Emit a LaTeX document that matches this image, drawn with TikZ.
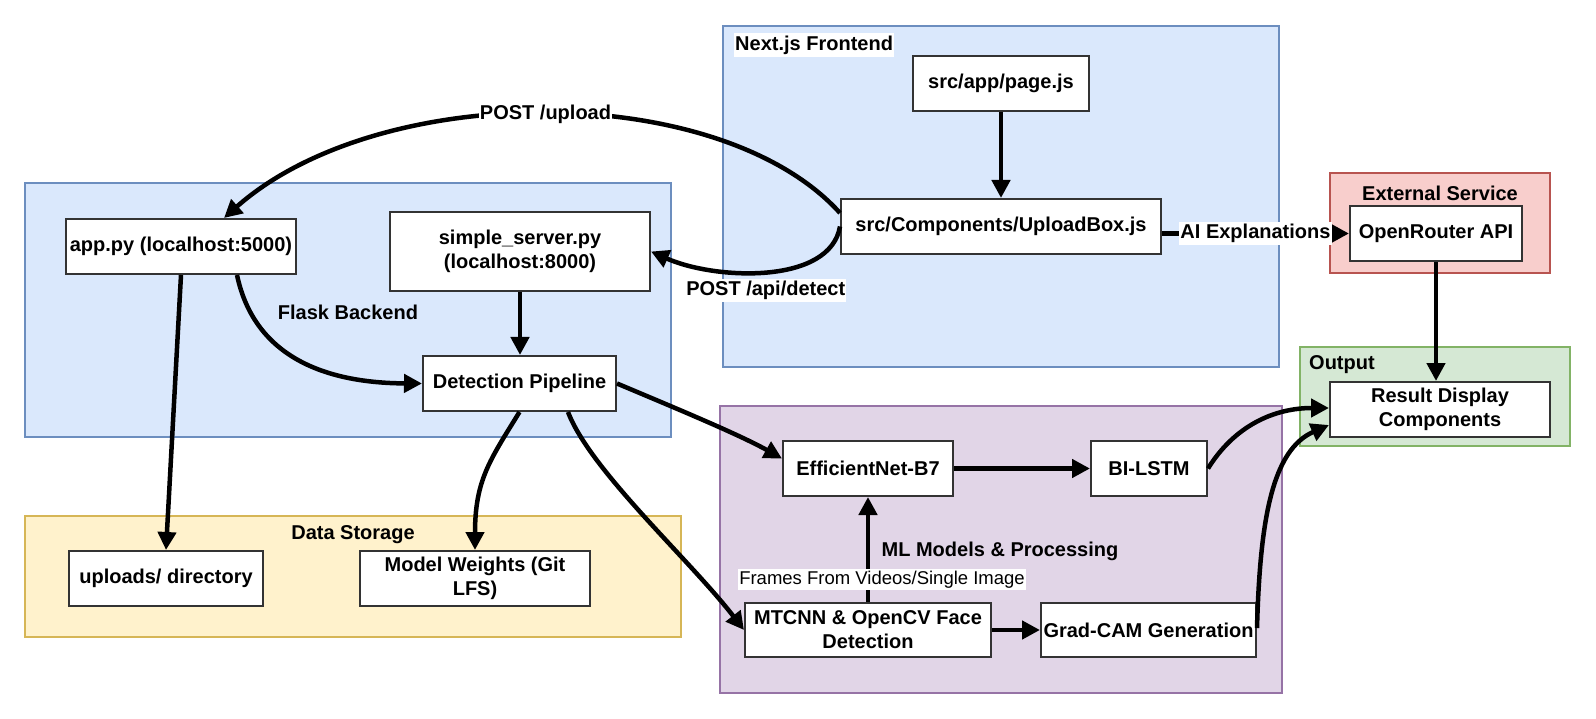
\documentclass[tikz,border=0pt]{standalone}
\usepackage{fontspec}
\setmainfont{Liberation Sans}
\usetikzlibrary{arrows.meta}
\definecolor{bluefill}{HTML}{DAE8FC}\definecolor{blueline}{HTML}{6C8EBF}
\definecolor{yelfill}{HTML}{FFF2CC}\definecolor{yelline}{HTML}{D6B656}
\definecolor{redfill}{HTML}{F8CECC}\definecolor{redline}{HTML}{B85450}
\definecolor{grnfill}{HTML}{D5E8D4}\definecolor{grnline}{HTML}{82B366}
\definecolor{purfill}{HTML}{E1D5E7}\definecolor{purline}{HTML}{9673A6}
\definecolor{boxline}{HTML}{333333}
\tikzset{
  box/.style={draw=boxline, fill=white, line width=2pt, inner sep=0pt, align=center,
    font=\bfseries\fontsize{20}{24}\selectfont},
  cont/.style={line width=2pt, inner sep=0pt},
  conn/.style={line width=4.5pt, -{Triangle[length=18pt,width=18pt]}},
  lbl/.style={font=\bfseries\fontsize{20}{24}\selectfont, inner xsep=1pt, inner ysep=2pt},
  smalllbl/.style={font=\fontsize{18.5}{22}\selectfont, inner xsep=1pt, inner ysep=2pt},
}
\begin{document}
\begin{tikzpicture}[x=1pt,y=-1pt]
\useasboundingbox (0,0) rectangle (1596,719);
% containers
\node[cont, draw=blueline, fill=bluefill, minimum width=646pt, minimum height=254pt] (flask) at (348,310) {};
\node[cont, draw=blueline, fill=bluefill, minimum width=556pt, minimum height=341pt] (next) at (1001,196.5) {};
\node[cont, draw=yelline, fill=yelfill, minimum width=656pt, minimum height=121pt] (storage) at (353,576.5) {};
\node[cont, draw=redline, fill=redfill, minimum width=220pt, minimum height=100pt] (ext) at (1440,223) {};
\node[cont, draw=grnline, fill=grnfill, minimum width=270pt, minimum height=99pt] (out) at (1435,396.5) {};
\node[cont, draw=purline, fill=purfill, minimum width=562pt, minimum height=287pt] (ml) at (1001,549.5) {};
% container titles
\node[lbl, fill=white, anchor=west, inner ysep=3pt] (nexttitle) at (734,45) {Next.js Frontend};
\node[lbl] (flasktitle) at (348,312) {Flask Backend};
\node[lbl] (storagetitle) at (353,535) {Data Storage};
\node[lbl] (exttitle) at (1440,193) {External Service};
\node[lbl, anchor=west] (outtitle) at (1308,365) {Output};
\node[lbl] (mltitle) at (1000,551) {ML Models \& Processing};
% boxes
\node[box, minimum width=230pt, minimum height=55pt] (app) at (181,246.5) {app.py (localhost:5000)};
\node[box, minimum width=260pt, minimum height=79pt] (simple) at (520,251.5) {simple\_server.py\\(localhost:8000)};
\node[box, minimum width=193pt, minimum height=55pt] (det) at (519.5,383.5) {Detection Pipeline};
\node[box, minimum width=176pt, minimum height=55pt] (page) at (1001,83.5) {src/app/page.js};
\node[box, minimum width=320pt, minimum height=55pt] (upload) at (1001,226.5) {src/Components/UploadBox.js};
\node[box, minimum width=172pt, minimum height=55pt] (openr) at (1436,233.5) {OpenRouter API};
\node[box, minimum width=220pt, minimum height=55pt] (result) at (1440,409.5) {Result Display\\Components};
\node[box, minimum width=170pt, minimum height=55pt] (effnet) at (868,468.5) {EfficientNet-B7};
\node[box, minimum width=116pt, minimum height=55pt] (bilstm) at (1149,468.5) {BI-LSTM};
\node[box, minimum width=246pt, minimum height=54pt] (mtcnn) at (868,630) {MTCNN \& OpenCV Face\\Detection};
\node[box, minimum width=215pt, minimum height=54pt] (gradcam) at (1148.5,630) {Grad-CAM Generation};
\node[box, minimum width=194pt, minimum height=55pt] (uploads) at (166,578.5) {uploads/ directory};
\node[box, minimum width=230pt, minimum height=55pt] (weights) at (475,578.5) {Model Weights (Git\\LFS)};
% connectors
\draw[conn] (page) -- (upload);
\draw[conn] (upload.east |- openr.west) -- node[lbl, fill=white] {AI Explanations} (openr.west);
\draw[conn] ([yshift=13.5pt]upload.west) .. controls (720,80) and (380,80) .. ([xshift=43pt]app.north)
  node[pos=0.5, lbl, fill=white] {POST /upload};
\draw[conn] (upload.west) .. controls (830,285) and (715,280) .. (simple.east)
  node[pos=0.5, lbl, fill=white, anchor=north, yshift=-5pt] {POST /api/detect};
\draw[conn] (simple.south) -- (simple.south |- det.north);
\draw[conn] ([xshift=56pt]app.south) .. controls (255,360) and (330,383) .. (det.west);
\draw[conn] (app.south) -- (uploads.north);
\draw[conn] (det.south) .. controls (490,460) and (475,480) .. (weights.north);
\draw[conn] ([xshift=48.5pt]det.south) .. controls (590,470) and (690,560) .. (mtcnn.west);
\draw[conn] (det.east) .. controls (680,410) and (740,435) .. ([yshift=10pt]effnet.west);
\draw[conn] (effnet) -- (bilstm);
\draw[conn] (mtcnn) -- (effnet)
  node[pos=0.215, smalllbl, fill=white, xshift=14pt] {Frames From Videos/Single Image};
\draw[conn] (mtcnn) -- (gradcam);
\draw[conn] (bilstm.east) .. controls (1235,425) and (1275,408) .. ([yshift=1.5pt]result.west);
\draw[conn] ([yshift=2pt]gradcam.east) .. controls (1260,520) and (1272,450) .. ([yshift=-15.5pt]result.west);
\draw[conn] (openr.south) -- (openr.south |- result.north);
\end{tikzpicture}
\end{document}
